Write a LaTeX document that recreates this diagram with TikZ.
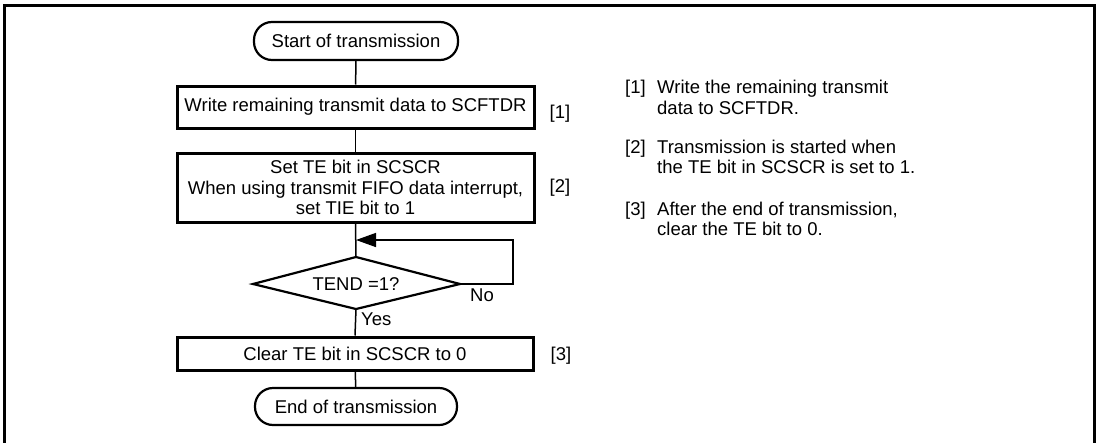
\documentclass[tikz,border=0pt]{standalone}
\usepackage{fontspec}
\setmainfont{Liberation Sans}
\usetikzlibrary{shapes.geometric,arrows.meta}
\begin{document}
\begin{tikzpicture}[x=1pt,y=-1pt,
  every node/.style={font=\fontsize{18.5}{20.5}\selectfont},
  term/.style={draw,line width=2.2pt,rectangle,rounded corners=18pt,inner sep=0pt},
  procbox/.style={draw,line width=3pt,rectangle,inner sep=0pt,align=center},
  conn/.style={line width=1.5pt},
  txt/.style={inner sep=0pt,anchor=base west}]
\useasboundingbox (0,0) rectangle (1100,442);
\begin{scope}
\clip (0,0) rectangle (1100,442);
\draw[line width=3pt] (4.5,450) -- (4.5,5) -- (1094.5,5) -- (1094.5,450);
\end{scope}
\node[term,minimum width=204pt,minimum height=38pt] (start) at (356,41) {Start of transmission};
\node[procbox,minimum width=357pt,minimum height=42pt] (b1) at (355.5,107) {Write remaining transmit data to SCFTDR};
\node[procbox,minimum width=357pt,minimum height=69pt] (b2) at (355.5,187.5) {Set TE bit in SCSCR\\When using transmit FIFO data interrupt,\\set TIE bit to 1};
\node[inner sep=0pt] (dia) at (356,284) {TEND =1?};
\coordinate (diaN) at (356,257);
\coordinate (diaE) at (460,284);
\coordinate (diaS) at (356,309);
\coordinate (diaW) at (253,284);
\draw[line width=2.2pt,line join=miter] (diaN) -- (diaE) -- (diaS) -- (diaW) -- cycle;
\node[procbox,minimum width=356pt,minimum height=33pt] (b3) at (355,353.5) {Clear TE bit in SCSCR to 0};
\node[term,minimum width=202pt,minimum height=37pt] (end) at (356,406.5) {End of transmission};
\coordinate (join) at (356,240);
\coordinate (loopr) at (513,284);
\draw[conn] (start) -- (b1);
\draw[conn] (b1) -- (b2);
\draw[conn] (b2.south) -- (diaN);
\draw[conn] (diaS) -- (b3.north);
\draw[conn] (b3) -- (end);
\draw[conn,-{Triangle[length=20pt,width=14pt]}] (diaE) -- (loopr) |- (join);
\node[inner sep=0pt] (no) at (482,295) {No};
\node[inner sep=0pt,anchor=west] (yes) at (361,319) {Yes};
\node[inner sep=0pt] (l1) at (560,114) {[1]};
\node[inner sep=0pt] (l2) at (560,188) {[2]};
\node[inner sep=0pt] (l3) at (561,356) {[3]};
\node[txt] (n1) at (625,93) {[1]};
\node[txt] (t1a) at (657,93) {Write the remaining transmit};
\node[txt] (t1b) at (657,114) {data to SCFTDR.};
\node[txt] (n2) at (625,153) {[2]};
\node[txt] (t2a) at (657,153) {Transmission is started when};
\node[txt] (t2b) at (657,173.5) {the TE bit in SCSCR is set to 1.};
\node[txt] (n3) at (625,215) {[3]};
\node[txt] (t3a) at (657,215) {After the end of transmission,};
\node[txt] (t3b) at (657,235.5) {clear the TE bit to 0.};
\end{tikzpicture}
\end{document}
